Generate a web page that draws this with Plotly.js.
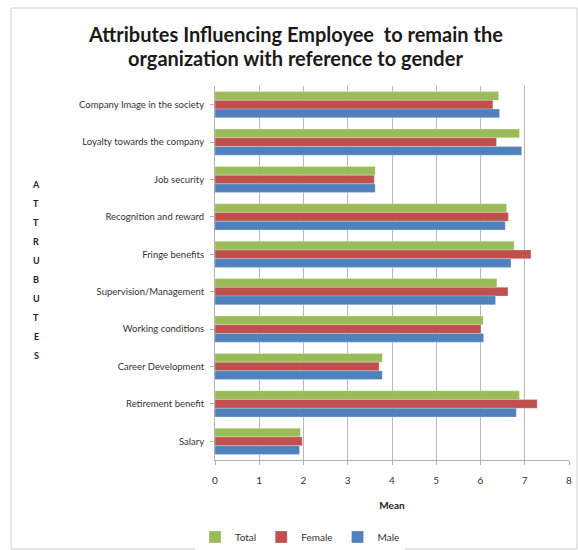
<!DOCTYPE html>
<html><head><meta charset="utf-8">
<script src="https://cdn.plot.ly/plotly-3.0.1.min.js"></script>
<style>body{margin:0;padding:0;background:#fff}#chart{width:578px;height:550px}</style>
</head><body><div id="chart"></div>
<script>
var categories = ["Company Image in the society","Loyalty towards the company","Job security","Recognition and reward","Fringe benefits","Supervision/Management","Working conditions","Career Development","Retirement benefit","Salary"];
var totalVals  = [6.41, 6.88, 3.62, 6.59, 6.76, 6.37, 6.06, 3.78, 6.88, 1.93];
var femaleVals = [6.28, 6.36, 3.60, 6.63, 7.14, 6.62, 6.01, 3.71, 7.28, 1.97];
var maleVals   = [6.43, 6.93, 3.62, 6.56, 6.69, 6.34, 6.07, 3.78, 6.81, 1.91];
var xTicks = [0,1,2,3,4,5,6,7,8];
var titleLines = ['Attributes Influencing Employee  to remain the', 'organization with reference to gender'];
var yTitleLetters = 'ATTRUBUTES'.split('');

var font = "Lato, 'Open Sans', sans-serif";
var plotH = 550 - 86 - 90;
function tr(name, vals, color){
  return {type:'bar', orientation:'h', name:name, x:vals, y:categories,
    marker:{color:color, line:{color:'rgba(255,255,255,0.5)', width:0.5}}};
}
var data = [tr('Total', totalVals, '#9bbb59'), tr('Female', femaleVals, '#c0504d'), tr('Male', maleVals, '#4f81bd')];

var annotations = [];
titleLines.forEach(function(t, i){
  annotations.push({xref:'paper', yref:'paper', x:(295-215)/354, y:(460-(34+i*24))/plotH, xanchor:'center', yanchor:'middle',
    showarrow:false, text:'<b>'+t+'</b>', font:{family:font, size:20, color:'#1a1a1a'}});
});
yTitleLetters.forEach(function(c, i){
  annotations.push({xref:'paper', yref:'paper', x:(36-215)/354, y:(460-(184+i*19))/plotH, xanchor:'center', yanchor:'middle',
    showarrow:false, text:'<b>'+c+'</b>', font:{family:font, size:9, color:'#222'}});
});

var layout = {
  width:578, height:550,
  margin:{l:215, r:9, t:86, b:90},
  paper_bgcolor:'#fff', plot_bgcolor:'#fff',
  barmode:'group', bargap:0.3, bargroupgap:0,
  xaxis:{range:[0,8], tickvals:xTicks, ticktext:xTicks.map(String), showgrid:true, gridcolor:'#b8b8b8', gridwidth:1,
    zeroline:false, showline:true, linecolor:'#b0b0b0', ticks:'outside', ticklen:4, tickcolor:'#b0b0b0',
    tickfont:{family:font, size:10, color:'#333'}, ticklabelstandoff:7,
    title:{text:'<b>Mean</b>', font:{family:font, size:10, color:'#222'}, standoff:16}, fixedrange:true},
  yaxis:{autorange:'reversed', showgrid:false, showline:true, linecolor:'#b0b0b0', ticks:'outside', ticklen:4, tickcolor:'#b0b0b0',
    tickfont:{family:font, size:9.5, color:'#333'}, ticklabelstandoff:4, fixedrange:true},
  legend:{orientation:'h', xref:'paper', x:(300-215)/354, xanchor:'center', yref:'container', y:13/550, yanchor:'middle',
    font:{family:font, size:10, color:'#333'}, itemwidth:30},
  annotations:annotations,
  shapes:[{type:'rect', xref:'paper', yref:'paper', x0:(11-215)/354, x1:(577-215)/354, y0:(460-549)/plotH, y1:(460-8)/plotH,
    line:{color:'#cfcfcf', width:1}}],
  showlegend:true
};
Plotly.newPlot('chart', data, layout, {displayModeBar:false, staticPlot:true});
</script></body></html>
